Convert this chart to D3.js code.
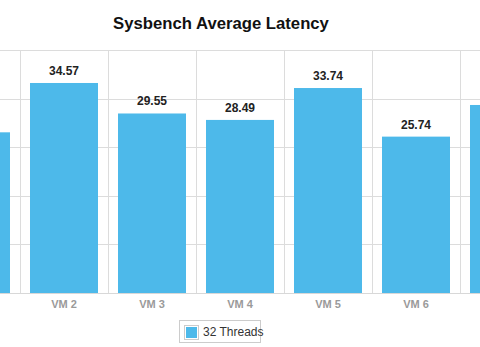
<!DOCTYPE html>
<html><head><meta charset="utf-8">
<script src="https://cdn.jsdelivr.net/npm/d3@7"></script>
<style>
html,body{margin:0;padding:0;background:#fff;overflow:hidden;}
svg{display:block;font-family:"Liberation Sans",Arial,sans-serif;}
</style></head>
<body>
<svg id="chart" width="480" height="347"></svg>
<script>
const categories = ["VM 1","VM 2","VM 3","VM 4","VM 5","VM 6","VM 7"];
const values = [26.45, 34.57, 29.55, 28.49, 33.74, 25.74, 30.95];
const yTicks = [0, 8, 16, 24, 32, 40];
const seriesName = "32 Threads";
const titleText = "Sysbench Average Latency";

const svg = d3.select("#chart");
const W = 480, H = 347;
const baseY = 293, topY = 50;
const x = d3.scaleBand().domain(categories).range([-68, 548]).padding(0);
const y = d3.scaleLinear().domain([0, 40]).range([baseY, topY]);
const inset = x.bandwidth() * 10 / 88;
const center = c => x(c) + x.bandwidth() / 2;
// only labels whose band centre falls inside the visible area are drawn
const visible = i => center(categories[i]) > 0 && center(categories[i]) < W;

// horizontal grid
svg.append("g").selectAll("line").data(yTicks).join("line")
  .attr("x1", 0).attr("x2", W)
  .attr("y1", d => Math.round(y(d)) + 0.5).attr("y2", d => Math.round(y(d)) + 0.5)
  .attr("stroke", "#dcdcdc").attr("stroke-width", 1);

// vertical grid at band boundaries
const bounds = categories.map(c => x(c)).concat([x.range()[1]]);
svg.append("g").selectAll("line").data(bounds).join("line")
  .attr("x1", d => Math.round(d) + 0.5).attr("x2", d => Math.round(d) + 0.5)
  .attr("y1", topY).attr("y2", baseY)
  .attr("stroke", "#dcdcdc").attr("stroke-width", 1);

// bars
svg.append("g").selectAll("rect").data(values).join("rect")
  .attr("x", (d, i) => x(categories[i]) + inset)
  .attr("width", x.bandwidth() - 2 * inset)
  .attr("y", d => y(d))
  .attr("height", d => baseY - y(d))
  .attr("fill", "#4db9ea");

// baseline
svg.append("line").attr("x1", 0).attr("x2", W)
  .attr("y1", baseY + 0.5).attr("y2", baseY + 0.5)
  .attr("stroke", "#d8d8d8");

// value labels
svg.append("g").selectAll("text")
  .data(values.map((v, i) => ({v, i})).filter(d => visible(d.i))).join("text")
  .attr("x", d => center(categories[d.i]))
  .attr("y", d => y(d.v) - 8)
  .attr("text-anchor", "middle")
  .attr("font-size", 12).attr("font-weight", "bold").attr("fill", "#222")
  .text(d => d.v.toFixed(2));

// x labels
svg.append("g").selectAll("text")
  .data(categories.filter((c, i) => visible(i))).join("text")
  .attr("x", c => center(c))
  .attr("y", 308)
  .attr("text-anchor", "middle")
  .attr("font-size", 11).attr("font-weight", "bold").attr("fill", "#9a9a9a")
  .text(c => c);

// title
svg.append("text").attr("x", 221).attr("y", 29)
  .attr("text-anchor", "middle")
  .attr("font-size", 16.7).attr("font-weight", "bold").attr("fill", "#111")
  .text(titleText);

// legend
const lg = svg.append("g");
lg.append("rect").attr("x", 179.5).attr("y", 320.5).attr("width", 81).attr("height", 22)
  .attr("fill", "#fff").attr("stroke", "#cccccc");
lg.append("rect").attr("x", 184.5).attr("y", 325.5).attr("width", 14).attr("height", 14)
  .attr("fill", "#fff").attr("stroke", "#cccccc");
lg.append("rect").attr("x", 186).attr("y", 327).attr("width", 11).attr("height", 11)
  .attr("fill", "#4db9ea");
lg.append("text").attr("x", 203).attr("y", 336)
  .attr("font-size", 12).attr("fill", "#333").text(seriesName);
</script>
</body></html>
